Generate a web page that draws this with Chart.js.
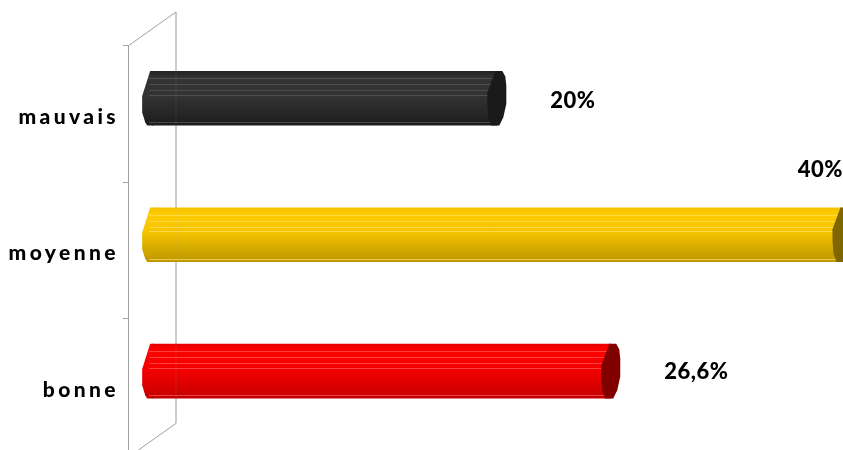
<!DOCTYPE html>
<html>
<head>
<meta charset="utf-8">
<style>
html, body { margin: 0; padding: 0; background: #fff; overflow: hidden; width: 843px; height: 450px; }
canvas { display: block; }
</style>
<script src="https://cdn.jsdelivr.net/npm/chart.js@4"></script>
</head>
<body>
<!-- the plot runs past the window on the right and at the bottom, like the reference -->
<canvas id="chart" width="880" height="472"></canvas>
<script>
const categories = ['mauvais', 'moyenne', 'bonne'];
const values = [20, 40, 26.6];

// Bar colours, top to bottom of the tube
const tubeStops = [
   [[0, '#222222'], [0.12, '#333333'], [0.45, '#333333'], [0.8, '#252525'], [1, '#1c1c1c']],
   [[0, '#f2c200'], [0.12, '#ffcc00'], [0.45, '#f5c400'], [0.8, '#d0a600'], [1, '#bd9700']],
   [[0, '#e80000'], [0.12, '#ff0000'], [0.45, '#f50000'], [0.8, '#d80000'], [1, '#c00000']]
];
const capColors = ['#1a1a1a', '#806600', '#800000'];
const stripeColors = ['#5a5a5a', '#ffdf60', '#ff5c5c'];

const axisColor = '#a0a0a0';
const depthX = 48;
const depthY = 34;
const floorDrop = 2;
const barShift = 16;
const labelGap = 53;
const labelLift = [3, -65, 1];

// Outline of the tube ends, dx in pixels from the end of the bar, dy as share of its height
const leftCap = [[1, 0], [-2, 0], [-10, 0.46], [-10, 0.76], [-7, 0.94], [-5, 1], [1, 1]];
const rightCap = [[-2, 0], [5, 0], [8, 0.1], [9, 0.27], [9, 0.6], [6, 0.85], [2, 1], [-6, 1], [-9, 0.85], [-10, 0.6], [-10, 0.4]];
const stripes = [0.13, 0.24, 0.35, 0.44, 0.94];

const valueText = v => String(v).replace('.', ',') + '%';

const tubeFill = function( context ) {
   const chart = context.chart;
   const y = chart.scales.y;
   if (!y || !chart.chartArea) return capColors[context.dataIndex];
   const mid = y.getPixelForValue(context.dataIndex);
   const half = y.height / categories.length * 0.4 / 2;
   const grad = chart.ctx.createLinearGradient(0, mid - half, 0, mid + half);
   tubeStops[context.dataIndex].forEach(s => grad.addColorStop(s[0], s[1]));
   return grad;
};

const outline = function( ctx, startX, top, height, points ) {
   ctx.beginPath();
   points.forEach((p, i) => {
      if (i == 0) ctx.moveTo(startX + p[0], top + p[1] * height);
      else ctx.lineTo(startX + p[0], top + p[1] * height);
   });
   ctx.closePath();
   ctx.fill();
};

const tubePlugin = {
   id: 'tube',
   // letter spaced category labels, the axes are drawn right after this
   beforeDraw( chart ) {
      chart.ctx.letterSpacing = '3.4px';
   },
   beforeDatasetsDraw( chart ) {
      const ctx = chart.ctx;
      const a = chart.chartArea;
      const back = a.left + depthX;
      ctx.letterSpacing = '0px';

      // walls of the 3d box
      ctx.save();
      ctx.strokeStyle = axisColor;
      ctx.lineWidth = 1;
      ctx.beginPath();
      ctx.moveTo(a.left, a.top);
      ctx.lineTo(back, a.top - depthY);
      ctx.lineTo(back, a.bottom + floorDrop - depthY);
      ctx.lineTo(a.left, a.bottom + floorDrop);
      ctx.lineTo(a.left, a.bottom);
      ctx.stroke();
      ctx.restore();

      // bars sit on the floor of the box, so higher than the category centre
      ctx.save();
      ctx.translate(0, -barShift);
      chart.getDatasetMeta(0).data.forEach(bar => {
         const top = bar.y - bar.height / 2;
         ctx.fillStyle = bar.options.backgroundColor;
         outline(ctx, bar.base, top, bar.height, leftCap);
      });
   },
   afterDatasetsDraw( chart ) {
      const ctx = chart.ctx;
      const a = chart.chartArea;
      chart.getDatasetMeta(0).data.forEach((bar, i) => {
         const top = bar.y - bar.height / 2;
         ctx.save();
         ctx.globalAlpha = 0.7;
         ctx.strokeStyle = stripeColors[i];
         ctx.lineWidth = 1;
         stripes.forEach(s => {
            const sy = Math.round(top + s * bar.height) + 0.5;
            ctx.beginPath();
            ctx.moveTo(bar.base - 3, sy);
            ctx.lineTo(bar.x, sy);
            ctx.stroke();
         });
         ctx.restore();
         ctx.fillStyle = capColors[i];
         outline(ctx, bar.x, top, bar.height, rightCap);
      });
      ctx.restore();

      // the back wall shows a little through the bars
      ctx.save();
      ctx.globalAlpha = 0.15;
      ctx.strokeStyle = axisColor;
      ctx.beginPath();
      ctx.moveTo(a.left + depthX, a.top - depthY);
      ctx.lineTo(a.left + depthX, a.bottom + floorDrop - depthY);
      ctx.stroke();
      ctx.restore();

      // value labels, the longest bar has its label above the bar at the page edge
      ctx.save();
      ctx.font = '900 22px Lato';
      ctx.letterSpacing = '0.5px';
      ctx.fillStyle = '#000';
      ctx.textBaseline = 'middle';
      chart.getDatasetMeta(0).data.forEach((bar, i) => {
         const ly = bar.y - barShift + labelLift[i];
         if (values[i] == Math.max(...values)) {
            ctx.textAlign = 'right';
            ctx.fillText(valueText(values[i]), 843, ly);
         } else {
            ctx.textAlign = 'left';
            ctx.fillText(valueText(values[i]), bar.x + labelGap, ly);
         }
      });
      ctx.restore();
   }
};

new Chart( document.getElementById('chart'), {
   type: 'bar',
   plugins: [tubePlugin],
   data: {
      labels: categories,
      datasets: [{
         data: values,
         backgroundColor: tubeFill,
         borderWidth: 0,
         barPercentage: 0.4,
         categoryPercentage: 1,
         clip: false
      }]
   },
   options: {
      indexAxis: 'y',
      responsive: false,
      animation: false,
      layout: { padding: { top: 46, bottom: 8, right: 3 } },
      plugins: {
         legend: { display: false },
         title: { display: false },
         tooltip: { enabled: false }
      },
      scales: {
         x: {
            display: false,
            min: -1.4,
            max: 42
         },
         y: {
            afterFit: scale => { scale.width = 128; },
            border: { color: axisColor },
            grid: {
               drawOnChartArea: false,
               color: axisColor,
               tickLength: 5
            },
            ticks: {
               color: '#000',
               padding: 4,
               labelOffset: 3,
               font: { family: 'Lato', size: 21, weight: '900' }
            }
         }
      }
   }
});
</script>
</body>
</html>
